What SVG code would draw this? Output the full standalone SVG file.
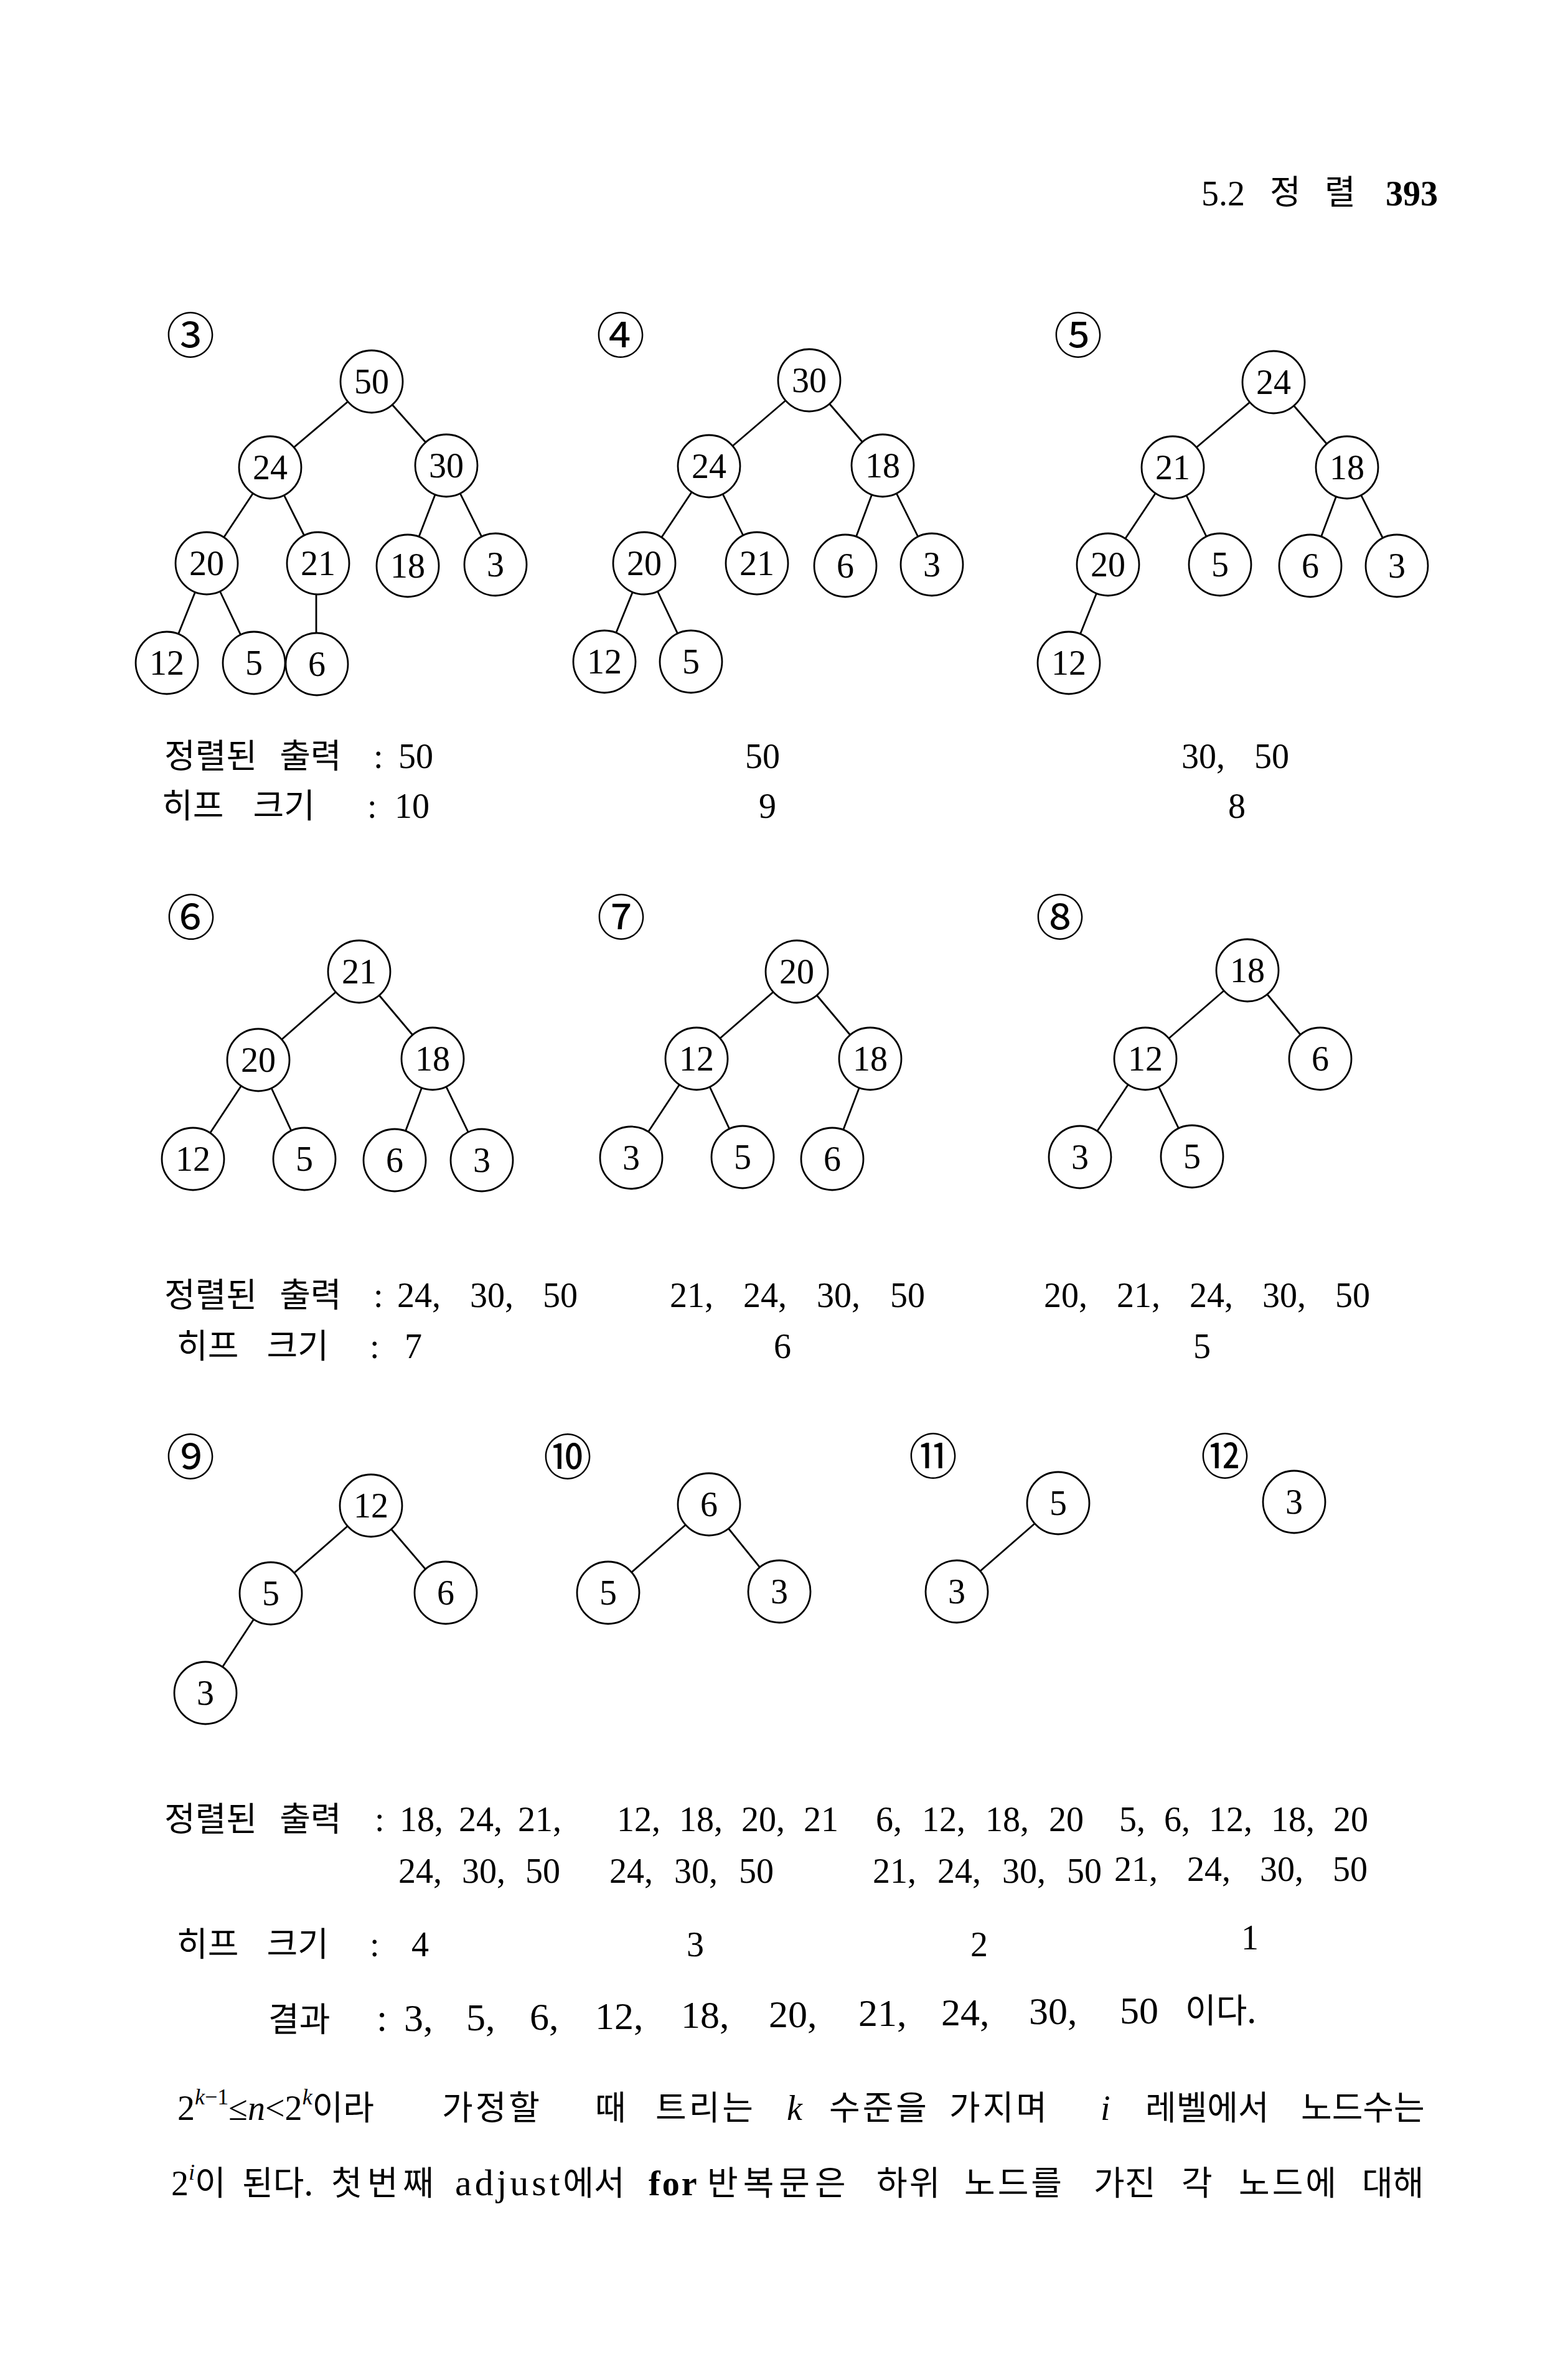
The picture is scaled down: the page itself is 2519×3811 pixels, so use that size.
<svg xmlns="http://www.w3.org/2000/svg" width="2519" height="3811" viewBox="0 0 2519 3811">
<style>
.n circle{fill:#fff;stroke:#000;stroke-width:2.8}
.n text{font-family:"Liberation Serif",serif;font-size:56px;text-anchor:middle;fill:#000}
.e line{stroke:#000;stroke-width:2.8}
.lbl{font-family:"Noto Sans CJK KR",sans-serif;font-size:78px;text-anchor:middle;fill:#000}
.ko{font-family:"Noto Sans CJK KR",sans-serif;font-size:54px;fill:#000}
.num{font-family:"Liberation Serif",serif;font-size:56px;fill:#000}
.res{font-family:"Liberation Serif",serif;font-size:62px;fill:#000}
.p{font-family:"Noto Sans CJK KR",sans-serif;font-size:54px;fill:#000}
.ps{font-family:"Liberation Serif",serif;font-size:56px;fill:#000}
</style>
<rect width="2519" height="3811" fill="#fff"/>

<g id="header">
<text class="num" x="1930" y="330" font-size="48">5.2</text>
<text class="ko" x="2040" y="328" font-size="40">정</text>
<text class="ko" x="2128" y="328" font-size="40">렬</text>
<text class="num" x="2226" y="330" font-size="43" font-weight="bold">393</text>
</g>

<g id="connectors" class="e">
<line x1="597" y1="613" x2="434" y2="751"/>
<line x1="597" y1="613" x2="717" y2="748"/>
<line x1="434" y1="751" x2="332" y2="905"/>
<line x1="434" y1="751" x2="511" y2="905"/>
<line x1="717" y1="748" x2="655" y2="909"/>
<line x1="717" y1="748" x2="796" y2="907"/>
<line x1="332" y1="905" x2="268" y2="1065"/>
<line x1="332" y1="905" x2="408" y2="1065"/>
<line x1="508" y1="905" x2="508" y2="1067"/>
<line x1="1300" y1="611" x2="1139" y2="749"/>
<line x1="1300" y1="611" x2="1418" y2="748"/>
<line x1="1139" y1="749" x2="1035" y2="905"/>
<line x1="1139" y1="749" x2="1216" y2="905"/>
<line x1="1418" y1="748" x2="1358" y2="909"/>
<line x1="1418" y1="748" x2="1497" y2="907"/>
<line x1="1035" y1="905" x2="971" y2="1063"/>
<line x1="1035" y1="905" x2="1110" y2="1063"/>
<line x1="2046" y1="614" x2="1884" y2="751"/>
<line x1="2046" y1="614" x2="2164" y2="751"/>
<line x1="1884" y1="751" x2="1780" y2="907"/>
<line x1="1884" y1="751" x2="1960" y2="907"/>
<line x1="2164" y1="751" x2="2105" y2="909"/>
<line x1="2164" y1="751" x2="2244" y2="909"/>
<line x1="1780" y1="907" x2="1717" y2="1065"/>
<line x1="577" y1="1561" x2="415" y2="1703"/>
<line x1="577" y1="1561" x2="695" y2="1701"/>
<line x1="415" y1="1703" x2="310" y2="1862"/>
<line x1="415" y1="1703" x2="489" y2="1862"/>
<line x1="695" y1="1701" x2="634" y2="1864"/>
<line x1="695" y1="1701" x2="774" y2="1864"/>
<line x1="1280" y1="1561" x2="1119" y2="1701"/>
<line x1="1280" y1="1561" x2="1398" y2="1701"/>
<line x1="1119" y1="1701" x2="1014" y2="1860"/>
<line x1="1119" y1="1701" x2="1193" y2="1859"/>
<line x1="1398" y1="1701" x2="1337" y2="1862"/>
<line x1="2004" y1="1559" x2="1840" y2="1701"/>
<line x1="2004" y1="1559" x2="2121" y2="1701"/>
<line x1="1840" y1="1701" x2="1735" y2="1859"/>
<line x1="1840" y1="1701" x2="1915" y2="1858"/>
<line x1="596" y1="2419" x2="435" y2="2560"/>
<line x1="596" y1="2419" x2="716" y2="2559"/>
<line x1="435" y1="2560" x2="330" y2="2720"/>
<line x1="1139" y1="2417" x2="977" y2="2559"/>
<line x1="1139" y1="2417" x2="1252" y2="2557"/>
<line x1="1700" y1="2415" x2="1537" y2="2557"/>
</g>

<g id="labels">
<text class="lbl" x="306" y="568">③</text>
<text class="lbl" x="997" y="568">④</text>
<text class="lbl" x="1732" y="568">⑤</text>
<text class="lbl" x="307" y="1503">⑥</text>
<text class="lbl" x="998" y="1503">⑦</text>
<text class="lbl" x="1703" y="1503">⑧</text>
<text class="lbl" x="306" y="2370">⑨</text>
<text class="lbl" x="912" y="2370">⑩</text>
<text class="lbl" x="1499" y="2369">⑪</text>
<text class="lbl" x="1968" y="2369">⑫</text>
</g>

<g id="tree3">
<g id="t3-50" class="n" transform="translate(597,613)"><circle r="50"/><text y="19">50</text></g>
<g id="t3-24" class="n" transform="translate(434,751)"><circle r="50"/><text y="19">24</text></g>
<g id="t3-30" class="n" transform="translate(717,748)"><circle r="50"/><text y="19">30</text></g>
<g id="t3-20" class="n" transform="translate(332,905)"><circle r="50"/><text y="19">20</text></g>
<g id="t3-21" class="n" transform="translate(511,905)"><circle r="50"/><text y="19">21</text></g>
<g id="t3-18" class="n" transform="translate(655,909)"><circle r="50"/><text y="19">18</text></g>
<g id="t3-3" class="n" transform="translate(796,907)"><circle r="50"/><text y="19">3</text></g>
<g id="t3-12" class="n" transform="translate(268,1065)"><circle r="50"/><text y="19">12</text></g>
<g id="t3-5" class="n" transform="translate(408,1065)"><circle r="50"/><text y="19">5</text></g>
<g id="t3-6" class="n" transform="translate(509,1067)"><circle r="50"/><text y="19">6</text></g>
</g>

<g id="tree4">
<g id="t4-30" class="n" transform="translate(1300,611)"><circle r="50"/><text y="19">30</text></g>
<g id="t4-24" class="n" transform="translate(1139,749)"><circle r="50"/><text y="19">24</text></g>
<g id="t4-18" class="n" transform="translate(1418,748)"><circle r="50"/><text y="19">18</text></g>
<g id="t4-20" class="n" transform="translate(1035,905)"><circle r="50"/><text y="19">20</text></g>
<g id="t4-21" class="n" transform="translate(1216,905)"><circle r="50"/><text y="19">21</text></g>
<g id="t4-6" class="n" transform="translate(1358,909)"><circle r="50"/><text y="19">6</text></g>
<g id="t4-3" class="n" transform="translate(1497,907)"><circle r="50"/><text y="19">3</text></g>
<g id="t4-12" class="n" transform="translate(971,1063)"><circle r="50"/><text y="19">12</text></g>
<g id="t4-5" class="n" transform="translate(1110,1063)"><circle r="50"/><text y="19">5</text></g>
</g>

<g id="tree5">
<g id="t5-24" class="n" transform="translate(2046,614)"><circle r="50"/><text y="19">24</text></g>
<g id="t5-21" class="n" transform="translate(1884,751)"><circle r="50"/><text y="19">21</text></g>
<g id="t5-18" class="n" transform="translate(2164,751)"><circle r="50"/><text y="19">18</text></g>
<g id="t5-20" class="n" transform="translate(1780,907)"><circle r="50"/><text y="19">20</text></g>
<g id="t5-5" class="n" transform="translate(1960,907)"><circle r="50"/><text y="19">5</text></g>
<g id="t5-6" class="n" transform="translate(2105,909)"><circle r="50"/><text y="19">6</text></g>
<g id="t5-3" class="n" transform="translate(2244,909)"><circle r="50"/><text y="19">3</text></g>
<g id="t5-12" class="n" transform="translate(1717,1065)"><circle r="50"/><text y="19">12</text></g>
</g>

<g id="tree6">
<g id="t6-21" class="n" transform="translate(577,1561)"><circle r="50"/><text y="19">21</text></g>
<g id="t6-20" class="n" transform="translate(415,1703)"><circle r="50"/><text y="19">20</text></g>
<g id="t6-18" class="n" transform="translate(695,1701)"><circle r="50"/><text y="19">18</text></g>
<g id="t6-12" class="n" transform="translate(310,1862)"><circle r="50"/><text y="19">12</text></g>
<g id="t6-5" class="n" transform="translate(489,1862)"><circle r="50"/><text y="19">5</text></g>
<g id="t6-6" class="n" transform="translate(634,1864)"><circle r="50"/><text y="19">6</text></g>
<g id="t6-3" class="n" transform="translate(774,1864)"><circle r="50"/><text y="19">3</text></g>
</g>

<g id="tree7">
<g id="t7-20" class="n" transform="translate(1280,1561)"><circle r="50"/><text y="19">20</text></g>
<g id="t7-12" class="n" transform="translate(1119,1701)"><circle r="50"/><text y="19">12</text></g>
<g id="t7-18" class="n" transform="translate(1398,1701)"><circle r="50"/><text y="19">18</text></g>
<g id="t7-3" class="n" transform="translate(1014,1860)"><circle r="50"/><text y="19">3</text></g>
<g id="t7-5" class="n" transform="translate(1193,1859)"><circle r="50"/><text y="19">5</text></g>
<g id="t7-6" class="n" transform="translate(1337,1862)"><circle r="50"/><text y="19">6</text></g>
</g>

<g id="tree8">
<g id="t8-18" class="n" transform="translate(2004,1559)"><circle r="50"/><text y="19">18</text></g>
<g id="t8-12" class="n" transform="translate(1840,1701)"><circle r="50"/><text y="19">12</text></g>
<g id="t8-6" class="n" transform="translate(2121,1701)"><circle r="50"/><text y="19">6</text></g>
<g id="t8-3" class="n" transform="translate(1735,1859)"><circle r="50"/><text y="19">3</text></g>
<g id="t8-5" class="n" transform="translate(1915,1858)"><circle r="50"/><text y="19">5</text></g>
</g>

<g id="tree9">
<g id="t9-12" class="n" transform="translate(596,2419)"><circle r="50"/><text y="19">12</text></g>
<g id="t9-5" class="n" transform="translate(435,2560)"><circle r="50"/><text y="19">5</text></g>
<g id="t9-6" class="n" transform="translate(716,2559)"><circle r="50"/><text y="19">6</text></g>
<g id="t9-3" class="n" transform="translate(330,2720)"><circle r="50"/><text y="19">3</text></g>
</g>

<g id="tree10">
<g id="t10-6" class="n" transform="translate(1139,2417)"><circle r="50"/><text y="19">6</text></g>
<g id="t10-5" class="n" transform="translate(977,2559)"><circle r="50"/><text y="19">5</text></g>
<g id="t10-3" class="n" transform="translate(1252,2557)"><circle r="50"/><text y="19">3</text></g>
</g>

<g id="tree11">
<g id="t11-5" class="n" transform="translate(1700,2415)"><circle r="50"/><text y="19">5</text></g>
<g id="t11-3" class="n" transform="translate(1537,2557)"><circle r="50"/><text y="19">3</text></g>
</g>

<g id="tree12">
<g id="t12-3" class="n" transform="translate(2079,2413)"><circle r="50"/><text y="19">3</text></g>
</g>

<g id="block1">
<text class="ko" x="264" y="1234" word-spacing="24">정렬된 출력</text>
<text class="num" x="600" y="1234">:</text>
<text class="num" x="640" y="1234">50</text>
<text class="num" x="1197" y="1234">50</text>
<text class="num" x="1898" y="1234" word-spacing="33">30, 50</text>
<text class="ko" x="260" y="1314" word-spacing="35">히프 크기</text>
<text class="num" x="590" y="1314">:</text>
<text class="num" x="634" y="1314">10</text>
<text class="num" x="1219" y="1314">9</text>
<text class="num" x="1973" y="1314">8</text>
</g>

<g id="block2">
<text class="ko" x="264" y="2100" word-spacing="24">정렬된 출력</text>
<text class="num" x="600" y="2100">:</text>
<text class="num" x="638" y="2100" word-spacing="33">24, 30, 50</text>
<text class="num" x="1076" y="2100" word-spacing="34">21, 24, 30, 50</text>
<text class="num" x="1677" y="2100" word-spacing="33">20, 21, 24, 30, 50</text>
<text class="ko" x="284" y="2182" word-spacing="33">히프 크기</text>
<text class="num" x="594" y="2182">:</text>
<text class="num" x="650" y="2182">7</text>
<text class="num" x="1243" y="2182">6</text>
<text class="num" x="1917" y="2182">5</text>
</g>

<g id="block3">
<text class="ko" x="264" y="2942" word-spacing="24">정렬된 출력</text>
<text class="num" x="602" y="2942">:</text>
<text class="num" x="642" y="2942" word-spacing="11">18, 24, 21,</text>
<text class="num" x="991" y="2942" word-spacing="16">12, 18, 20, 21</text>
<text class="num" x="1407" y="2942" word-spacing="18">6, 12, 18, 20</text>
<text class="num" x="1798" y="2942" word-spacing="16">5, 6, 12, 18, 20</text>
<text class="num" x="640" y="3025" word-spacing="18">24, 30, 50</text>
<text class="num" x="979" y="3025" word-spacing="20">24, 30, 50</text>
<text class="num" x="1402" y="3025" word-spacing="20">21, 24, 30, 50</text>
<text class="num" x="1790" y="3022" word-spacing="33">21, 24, 30, 50</text>
<text class="ko" x="284" y="3143" word-spacing="33">히프 크기</text>
<text class="num" x="594" y="3143">:</text>
<text class="num" x="661" y="3143">4</text>
<text class="num" x="1103" y="3143">3</text>
<text class="num" x="1559" y="3143">2</text>
<text class="num" x="1994" y="3132">1</text>
</g>

<g id="result">
<text class="ko" x="431" y="3264" font-size="57">결과</text>
<text class="res" x="605" y="3263">:</text>
<text class="res" x="649" y="3263">3,</text>
<text class="res" x="749" y="3262">5,</text>
<text class="res" x="851" y="3261">6,</text>
<text class="res" x="956" y="3260">12,</text>
<text class="res" x="1094" y="3258">18,</text>
<text class="res" x="1235" y="3257">20,</text>
<text class="res" x="1379" y="3255">21,</text>
<text class="res" x="1512" y="3254">24,</text>
<text class="res" x="1653" y="3252">30,</text>
<text class="res" x="1799" y="3251">50</text>
<text class="ko" x="1904" y="3250" font-size="57">이다.</text>
</g>

<g id="paragraph">
<text class="ps" x="285" y="3406">2<tspan font-size="36" dy="-25"><tspan font-style="italic">k</tspan>−1</tspan><tspan dy="25">≤</tspan><tspan font-style="italic">n</tspan>&lt;2<tspan font-size="36" dy="-25" font-style="italic">k</tspan><tspan dy="25" font-family="Noto Sans CJK KR" font-size="54">이라</tspan></text>
<text class="p" x="710" y="3406" letter-spacing="4">가정할</text>
<text class="p" x="956" y="3406">때</text>
<text class="p" x="1053" y="3406" letter-spacing="4">트리는</text>
<text class="ps" x="1264" y="3406" font-style="italic">k</text>
<text class="p" x="1332" y="3406" letter-spacing="4">수준을</text>
<text class="p" x="1525" y="3406" letter-spacing="4">가지며</text>
<text class="ps" x="1768" y="3406" font-style="italic">i</text>
<text class="p" x="1840" y="3406">레벨에서</text>
<text class="p" x="2090" y="3406">노드수는</text>

<text class="ps" x="275" y="3527">2<tspan font-size="36" dy="-25" font-style="italic">i</tspan><tspan dy="25" font-family="Noto Sans CJK KR" font-size="54">이</tspan></text>
<text class="p" x="389" y="3527">된다.</text>
<text class="p" x="532" y="3527" letter-spacing="8">첫번째</text>
<text class="p" x="731" y="3527"><tspan font-family="Liberation Serif" font-size="60" letter-spacing="5">adjust</tspan>에서</text>
<text class="ps" x="1042" y="3527" font-size="60" font-weight="bold" letter-spacing="3">for</text>
<text class="p" x="1136" y="3527" letter-spacing="8">반복문은</text>
<text class="p" x="1408" y="3527" letter-spacing="3">하위</text>
<text class="p" x="1549" y="3527" letter-spacing="4">노드를</text>
<text class="p" x="1757" y="3527">가진</text>
<text class="p" x="1898" y="3527">각</text>
<text class="p" x="1990" y="3527" letter-spacing="4">노드에</text>
<text class="p" x="2188" y="3527">대해</text>
</g>
</svg>
